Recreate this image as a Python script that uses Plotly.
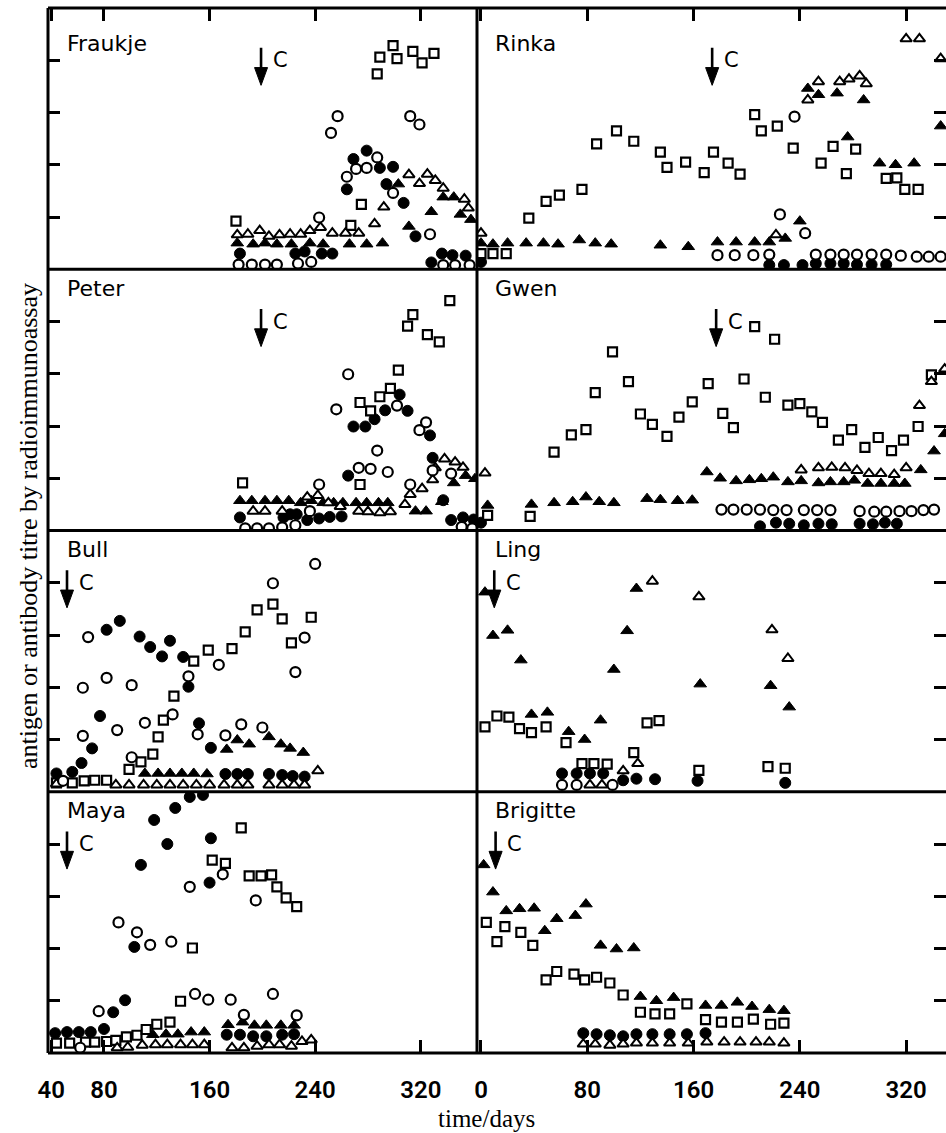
import plotly.graph_objects as go
from plotly.subplots import make_subplots

# ---------------- data (day, titre units) ----------------
panel_names = ["Fraukje", "Rinka", "Peter", "Gwen", "Bull", "Ling", "Maya", "Brigitte"]
arrow_days = [199, 174, 199, 177, 52, 10, 52, 11]
left_ticks = [40, 80, 160, 240, 320]
right_ticks = [0, 80, 160, 240, 320]
y_ticks = [1, 2, 3, 4]

# Fraukje
fraukje_sq_days = [180, 267, 275, 287, 289, 299, 302, 314, 321, 330]
fraukje_sq_titre = [0.92, 0.84, 1.24, 3.74, 4.06, 4.28, 4.03, 4.17, 3.95, 4.13]
fraukje_to_days = [181, 189, 198, 205, 213, 221, 229, 236, 244, 253, 263, 273, 285, 292, 311, 319, 325, 331, 337, 353, 356]
fraukje_to_titre = [0.66, 0.67, 0.74, 0.63, 0.66, 0.67, 0.67, 0.74, 0.80, 0.69, 0.69, 0.69, 0.87, 1.19, 1.81, 1.64, 1.82, 1.70, 1.55, 1.34, 1.17]
fraukje_tf_days = [181, 193, 202, 211, 222, 236, 246, 266, 279, 291, 303, 311, 328, 337, 345, 350, 358]
fraukje_tf_titre = [0.50, 0.48, 0.50, 0.48, 0.48, 0.50, 0.48, 0.48, 0.48, 0.50, 1.63, 0.82, 1.10, 1.38, 1.38, 1.05, 0.95]
fraukje_cf_days = [183, 225, 232, 245, 253, 264, 269, 279, 289, 294, 299, 307, 316, 328, 336, 344, 354]
fraukje_cf_titre = [0.30, 0.30, 0.34, 0.30, 0.30, 1.53, 2.11, 2.27, 1.94, 1.63, 1.96, 1.27, 0.63, 0.13, 0.30, 0.27, 0.26]
fraukje_co_days = [182, 192, 202, 211, 227, 237, 243, 252, 257, 264, 271, 279, 287, 299, 312, 319, 327, 337, 346, 357]
fraukje_co_titre = [0.09, 0.09, 0.09, 0.09, 0.11, 0.14, 0.99, 2.61, 2.93, 1.77, 1.92, 1.94, 2.14, 1.46, 2.93, 2.77, 0.67, 0.08, 0.08, 0.08]

# Rinka
rinka_sq_days = [0, 9, 19, 36, 49, 59, 76, 87, 102, 115, 135, 140, 154, 168, 175, 186, 195, 206, 211, 223, 235, 256, 265, 275, 282, 305, 313, 319, 329]
rinka_sq_titre = [0.30, 0.30, 0.30, 0.98, 1.30, 1.42, 1.53, 2.40, 2.65, 2.45, 2.24, 1.95, 2.05, 1.85, 2.24, 2.03, 1.82, 2.96, 2.65, 2.74, 2.32, 2.03, 2.35, 1.83, 2.30, 1.74, 1.75, 1.53, 1.53]
rinka_tf_days = [0, 9, 20, 34, 47, 58, 74, 86, 98, 135, 156, 178, 192, 206, 217, 229, 240, 246, 254, 268, 276, 288, 300, 312, 326, 346]
rinka_tf_titre = [0.50, 0.48, 0.50, 0.50, 0.50, 0.48, 0.56, 0.50, 0.48, 0.46, 0.43, 0.52, 0.52, 0.52, 0.52, 0.59, 0.92, 3.46, 3.34, 3.37, 2.53, 3.24, 2.03, 2.00, 2.03, 2.74]
rinka_to_days = [0, 222, 246, 254, 270, 277, 285, 290, 320, 330, 346]
rinka_to_titre = [0.69, 0.66, 3.24, 3.59, 3.59, 3.64, 3.70, 3.55, 4.41, 4.41, 4.03]
rinka_co_days = [178, 191, 205, 217, 225, 236, 244, 252, 263, 273, 283, 294, 305, 316, 328, 337, 346]
rinka_co_titre = [0.27, 0.27, 0.27, 0.28, 1.05, 2.92, 0.69, 0.28, 0.28, 0.28, 0.28, 0.28, 0.28, 0.26, 0.24, 0.24, 0.24]
rinka_cf_days = [0, 217, 228, 242, 252, 263, 273, 283, 294, 305]
rinka_cf_titre = [0.14, 0.08, 0.08, 0.08, 0.11, 0.11, 0.11, 0.09, 0.09, 0.09]

# Peter
peter_sq_days = [185, 274, 274, 282, 289, 297, 303, 310, 314, 325, 334, 342]
peter_sq_titre = [0.91, 0.88, 2.45, 2.29, 2.56, 2.72, 3.07, 3.91, 4.13, 3.75, 3.61, 4.40]
peter_tf_days = [183, 192, 202, 211, 220, 229, 237, 246, 254, 261, 271, 279, 288, 295, 316, 324, 336, 345, 354, 361]
peter_tf_titre = [0.57, 0.57, 0.57, 0.57, 0.57, 0.53, 0.57, 0.53, 0.53, 0.53, 0.53, 0.53, 0.53, 0.53, 0.37, 0.37, 0.55, 0.91, 1.05, 0.99]
peter_to_days = [193, 202, 215, 234, 242, 250, 259, 273, 280, 289, 297, 308, 312, 321, 329, 331, 338, 346, 352]
peter_to_titre = [0.37, 0.37, 0.37, 0.64, 0.67, 0.53, 0.46, 0.37, 0.36, 0.34, 0.36, 0.50, 0.69, 0.80, 0.97, 1.20, 1.37, 1.31, 1.21]
peter_cf_days = [183, 216, 221, 226, 234, 243, 251, 260, 265, 269, 278, 285, 293, 304, 310, 327, 329, 337, 343, 352, 360]
peter_cf_titre = [0.25, 0.25, 0.31, 0.31, 0.20, 0.23, 0.26, 0.27, 1.05, 1.99, 1.99, 2.13, 2.30, 2.60, 2.29, 1.82, 1.39, 0.58, 0.20, 0.25, 0.21]
peter_co_days = [187, 196, 205, 215, 225, 236, 243, 256, 265, 273, 282, 287, 295, 302, 312, 319, 324, 329, 343, 351, 359]
peter_co_titre = [0.04, 0.04, 0.04, 0.06, 0.10, 0.37, 0.88, 2.32, 2.99, 1.20, 1.18, 1.53, 1.12, 2.39, 0.88, 1.92, 2.07, 1.15, 1.09, 0.07, 0.04]

# Gwen
gwen_sq_days = [5, 37, 55, 68, 79, 86, 99, 111, 120, 129, 140, 149, 159, 171, 182, 190, 198, 206, 214, 221, 231, 240, 249, 257, 269, 279, 289, 299, 309, 318, 329, 339]
gwen_sq_titre = [0.29, 0.27, 1.50, 1.83, 1.93, 2.64, 3.42, 2.85, 2.23, 2.03, 1.80, 2.17, 2.46, 2.81, 2.24, 1.97, 2.90, 3.90, 2.55, 3.66, 2.40, 2.43, 2.27, 2.07, 1.73, 1.93, 1.59, 1.78, 1.53, 1.73, 1.99, 2.98]
gwen_tf_days = [5, 38, 55, 69, 79, 89, 100, 125, 135, 148, 159, 170, 180, 192, 202, 211, 220, 231, 241, 254, 263, 273, 281, 291, 301, 311, 319, 331, 341, 349]
gwen_tf_titre = [0.48, 0.50, 0.53, 0.55, 0.64, 0.55, 0.53, 0.61, 0.59, 0.57, 0.58, 1.12, 1.00, 0.95, 0.97, 0.99, 1.02, 0.93, 0.95, 0.91, 0.93, 0.93, 0.96, 0.90, 0.90, 0.90, 0.90, 1.16, 1.52, 1.85]
gwen_to_days = [3, 241, 254, 264, 274, 283, 292, 301, 311, 320, 330, 339, 349]
gwen_to_titre = [1.10, 1.16, 1.20, 1.21, 1.20, 1.15, 1.09, 1.09, 1.07, 1.20, 2.39, 2.85, 3.09]
gwen_co_days = [181, 190, 200, 210, 220, 230, 243, 253, 263, 285, 296, 305, 315, 324, 333, 341]
gwen_co_titre = [0.40, 0.40, 0.40, 0.40, 0.39, 0.39, 0.39, 0.39, 0.39, 0.37, 0.36, 0.36, 0.37, 0.37, 0.39, 0.40]
gwen_cf_days = [0, 210, 222, 232, 243, 254, 264, 285, 295, 304, 313]
gwen_cf_titre = [0.15, 0.08, 0.15, 0.13, 0.10, 0.13, 0.12, 0.13, 0.12, 0.15, 0.13]

# Bull
bull_sq_days = [44, 56, 65, 73, 82, 99, 108, 117, 121, 125, 133, 148, 159, 177, 187, 196, 208, 215, 222, 237]
bull_sq_titre = [0.17, 0.17, 0.21, 0.22, 0.22, 0.43, 0.57, 0.72, 1.05, 1.37, 1.83, 2.50, 2.71, 2.74, 3.06, 3.48, 3.59, 3.31, 2.85, 3.34]
bull_tf_days = [111, 121, 130, 139, 148, 158, 173, 181, 190, 205, 214, 221, 231]
bull_tf_titre = [0.35, 0.35, 0.35, 0.35, 0.35, 0.34, 0.81, 0.99, 0.91, 1.05, 0.91, 0.83, 0.75]
bull_to_days = [44, 89, 99, 110, 120, 130, 140, 150, 160, 171, 181, 189, 205, 215, 224, 232, 242]
bull_to_titre = [0.15, 0.13, 0.13, 0.13, 0.13, 0.13, 0.13, 0.13, 0.13, 0.13, 0.13, 0.13, 0.13, 0.13, 0.13, 0.13, 0.40]
bull_cf_days = [44, 56, 63, 71, 77, 82, 92, 107, 115, 124, 130, 140, 144, 152, 161, 172, 181, 189, 205, 215, 223, 232]
bull_cf_titre = [0.35, 0.38, 0.55, 0.83, 1.45, 3.10, 3.27, 2.97, 2.77, 2.59, 2.89, 2.58, 2.01, 1.31, 0.84, 0.34, 0.34, 0.34, 0.34, 0.32, 0.30, 0.29]
bull_co_days = [49, 64, 64, 68, 82, 90, 101, 101, 111, 132, 144, 151, 167, 172, 184, 200, 208, 225, 232, 240]
bull_co_titre = [0.21, 1.07, 1.99, 2.96, 2.18, 1.18, 2.04, 0.66, 1.32, 1.48, 2.21, 1.10, 2.43, 1.08, 1.29, 1.23, 3.99, 2.29, 2.95, 4.36]

# Ling
ling_sq_days = [3, 12, 21, 29, 38, 49, 64, 76, 85, 95, 115, 125, 134, 164, 216, 229]
ling_sq_titre = [1.24, 1.45, 1.43, 1.21, 1.13, 1.24, 0.94, 0.54, 0.54, 0.53, 0.75, 1.32, 1.36, 0.41, 0.48, 0.45]
ling_tf_days = [3, 9, 20, 30, 38, 50, 66, 78, 90, 100, 110, 117, 165, 218, 232]
ling_tf_titre = [3.82, 2.99, 3.09, 2.52, 1.48, 1.52, 1.15, 1.00, 1.37, 2.34, 3.08, 3.89, 2.06, 2.03, 1.62]
ling_to_days = [82, 91, 107, 118, 129, 164, 219, 231]
ling_to_titre = [0.13, 0.13, 0.40, 0.54, 4.03, 3.73, 3.10, 2.55]
ling_cf_days = [61, 72, 82, 92, 107, 117, 131, 163, 229]
ling_cf_titre = [0.35, 0.35, 0.35, 0.35, 0.22, 0.25, 0.24, 0.21, 0.17]
ling_co_days = [61, 72, 99]
ling_co_titre = [0.13, 0.13, 0.13]

# Maya
maya_sq_days = [44, 54, 66, 73, 82, 89, 97, 105, 112, 120, 130, 138, 147, 162, 172, 184, 190, 199, 207, 211, 218, 226]
maya_sq_titre = [0.19, 0.19, 0.21, 0.21, 0.22, 0.24, 0.31, 0.34, 0.45, 0.55, 0.59, 0.99, 2.01, 3.69, 3.63, 4.31, 3.39, 3.39, 3.41, 3.18, 2.97, 2.80]
maya_tf_days = [117, 127, 136, 146, 156, 174, 185, 194, 203, 214, 224]
maya_tf_titre = [0.35, 0.36, 0.36, 0.40, 0.40, 0.54, 0.59, 0.53, 0.53, 0.53, 0.53]
maya_to_days = [90, 98, 109, 119, 128, 138, 147, 156, 177, 186, 196, 205, 213, 222, 230, 237]
maya_to_titre = [0.10, 0.11, 0.15, 0.16, 0.16, 0.16, 0.16, 0.16, 0.10, 0.10, 0.13, 0.16, 0.16, 0.13, 0.22, 0.25]
maya_cf_days = [43, 52, 61, 70, 80, 87, 96, 103, 108, 118, 128, 134, 145, 155, 160, 161, 173, 183, 193, 203, 215, 224]
maya_cf_titre = [0.38, 0.40, 0.40, 0.40, 0.46, 0.78, 1.01, 2.03, 3.60, 4.46, 4.00, 4.69, 4.90, 4.94, 3.26, 4.11, 0.35, 0.35, 0.32, 0.32, 0.35, 0.36]
maya_co_days = [62, 76, 91, 105, 115, 131, 145, 149, 159, 170, 176, 186, 195, 208, 226]
maya_co_titre = [0.10, 0.80, 2.50, 2.31, 2.07, 2.13, 3.18, 1.13, 1.02, 3.42, 1.02, 0.73, 2.92, 1.13, 0.72]

# Brigitte
brigitte_sq_days = [4, 12, 18, 30, 39, 49, 57, 70, 78, 87, 97, 107, 120, 131, 142, 155, 169, 181, 193, 205, 218, 228]
brigitte_sq_titre = [2.50, 2.13, 2.42, 2.31, 2.06, 1.40, 1.56, 1.51, 1.40, 1.45, 1.34, 1.11, 0.78, 0.75, 0.75, 0.94, 0.64, 0.59, 0.59, 0.65, 0.55, 0.57]
brigitte_tf_days = [2, 9, 19, 29, 40, 48, 57, 71, 79, 90, 102, 115, 120, 132, 145, 169, 181, 193, 204, 217, 228]
brigitte_tf_titre = [3.60, 3.08, 2.72, 2.76, 2.77, 2.34, 2.57, 2.63, 2.85, 2.06, 1.99, 2.01, 1.08, 1.00, 1.06, 0.91, 0.91, 0.97, 0.89, 0.83, 0.81]
brigitte_to_days = [77, 86, 97, 107, 117, 129, 142, 156, 170, 183, 195, 207, 217, 228]
brigitte_to_titre = [0.17, 0.17, 0.15, 0.17, 0.19, 0.19, 0.19, 0.19, 0.21, 0.21, 0.21, 0.21, 0.21, 0.19]
brigitte_cf_days = [77, 87, 97, 107, 117, 129, 142, 155, 169]
brigitte_cf_titre = [0.38, 0.36, 0.34, 0.32, 0.36, 0.36, 0.36, 0.36, 0.38]
brigitte_co_days = []
brigitte_co_titre = []

# ---------------- assemble ----------------
series_by_panel = {
    "Fraukje": [(fraukje_cf_days, fraukje_cf_titre, "cf"), (fraukje_tf_days, fraukje_tf_titre, "tf"),
                (fraukje_sq_days, fraukje_sq_titre, "sq"), (fraukje_to_days, fraukje_to_titre, "to"),
                (fraukje_co_days, fraukje_co_titre, "co")],
    "Rinka": [(rinka_cf_days, rinka_cf_titre, "cf"), (rinka_tf_days, rinka_tf_titre, "tf"),
              (rinka_sq_days, rinka_sq_titre, "sq"), (rinka_to_days, rinka_to_titre, "to"),
              (rinka_co_days, rinka_co_titre, "co")],
    "Peter": [(peter_cf_days, peter_cf_titre, "cf"), (peter_tf_days, peter_tf_titre, "tf"),
              (peter_sq_days, peter_sq_titre, "sq"), (peter_to_days, peter_to_titre, "to"),
              (peter_co_days, peter_co_titre, "co")],
    "Gwen": [(gwen_cf_days, gwen_cf_titre, "cf"), (gwen_tf_days, gwen_tf_titre, "tf"),
             (gwen_sq_days, gwen_sq_titre, "sq"), (gwen_to_days, gwen_to_titre, "to"),
             (gwen_co_days, gwen_co_titre, "co")],
    "Bull": [(bull_cf_days, bull_cf_titre, "cf"), (bull_tf_days, bull_tf_titre, "tf"),
             (bull_sq_days, bull_sq_titre, "sq"), (bull_to_days, bull_to_titre, "to"),
             (bull_co_days, bull_co_titre, "co")],
    "Ling": [(ling_cf_days, ling_cf_titre, "cf"), (ling_tf_days, ling_tf_titre, "tf"),
             (ling_sq_days, ling_sq_titre, "sq"), (ling_to_days, ling_to_titre, "to"),
             (ling_co_days, ling_co_titre, "co")],
    "Maya": [(maya_cf_days, maya_cf_titre, "cf"), (maya_tf_days, maya_tf_titre, "tf"),
             (maya_sq_days, maya_sq_titre, "sq"), (maya_to_days, maya_to_titre, "to"),
             (maya_co_days, maya_co_titre, "co")],
    "Brigitte": [(brigitte_cf_days, brigitte_cf_titre, "cf"), (brigitte_tf_days, brigitte_tf_titre, "tf"),
                 (brigitte_sq_days, brigitte_sq_titre, "sq"), (brigitte_to_days, brigitte_to_titre, "to"),
                 (brigitte_co_days, brigitte_co_titre, "co")],
}

marker_styles = {
    "sq": dict(symbol="square", size=9, color="white", line=dict(color="black", width=2.2)),
    "to": dict(symbol="triangle-up", size=10, color="white", line=dict(color="black", width=2)),
    "co": dict(symbol="circle", size=10, color="white", line=dict(color="black", width=2.2)),
    "tf": dict(symbol="triangle-up", size=11, color="black", line=dict(color="black", width=1)),
    "cf": dict(symbol="circle", size=11, color="black", line=dict(color="black", width=1)),
}
series_names = {"sq": "open squares", "to": "open triangles", "co": "open circles",
                "tf": "filled triangles", "cf": "filled circles"}

W, H = 946, 1133
ML, MR, MT, MB = 48, 0, 8, 80
PW = W - ML - MR
PH = H - MT - MB
left_w, right_w = 429, 469

fig = make_subplots(rows=4, cols=2, horizontal_spacing=0, vertical_spacing=0,
                    column_widths=[left_w, right_w])

LABEL_FONT = "Liberation Sans Narrow, Roboto, DejaVu Sans Condensed, sans-serif"
NAME_FONT = "DejaVu Sans, Verdana, sans-serif"
SERIF = "Liberation Serif, Times New Roman, serif"

for i, name in enumerate(panel_names):
    row, col = i // 2 + 1, i % 2 + 1
    for days, titre, key in series_by_panel[name]:
        if not days:
            continue
        fig.add_trace(go.Scatter(x=days, y=titre, mode="markers", name=series_names[key],
                                 marker=marker_styles[key], showlegend=False),
                      row=row, col=col)

# axes
for i, name in enumerate(panel_names):
    row, col = i // 2 + 1, i % 2 + 1
    xr = [37.6, 362.6] if col == 1 else [-3, 350]
    tv = left_ticks if col == 1 else right_ticks
    xa = dict(range=xr, tickvals=tv, ticktext=[str(t) for t in tv], showgrid=False,
              zeroline=False, showline=False, ticklen=13, tickwidth=2.5, tickcolor="black")
    if row == 1:
        xa.update(side="top", ticks="inside", showticklabels=False)
    elif row == 4:
        xa.update(side="bottom", ticks="inside", showticklabels=True, ticklabelstandoff=20,
                  tickfont=dict(family=LABEL_FONT, size=24, color="black", weight=600))
    else:
        xa.update(ticks="", showticklabels=False)
    fig.update_xaxes(row=row, col=col, **xa)
    ya = dict(range=[0, 5], tickvals=y_ticks, showgrid=False, zeroline=False, showline=False,
              ticks="inside", ticklen=12, tickwidth=2.5, tickcolor="black", showticklabels=False,
              side="left" if col == 1 else "right")
    fig.update_yaxes(row=row, col=col, **ya)

shapes = []
split_x = left_w / PW
bw = 3
for yy in [0, 0.25, 0.5, 0.75, 1]:
    shapes.append(dict(type="line", xref="paper", yref="paper", x0=0, x1=1, y0=yy, y1=yy,
                       line=dict(color="black", width=bw)))
for xx in [0, split_x]:
    shapes.append(dict(type="line", xref="paper", yref="paper", x0=xx, x1=xx, y0=0, y1=1,
                       line=dict(color="black", width=bw)))

annotations = []
px_per_day = left_w / (362.6 - 37.6)
head_half = 6.5 / px_per_day
for i, name in enumerate(panel_names):
    row, col = i // 2 + 1, i % 2 + 1
    k = i + 1
    xref = "x" if k == 1 else f"x{k}"
    yref = "y" if k == 1 else f"y{k}"
    d = arrow_days[i]
    shapes.append(dict(type="line", xref=xref, yref=yref, x0=d, x1=d, y0=4.24, y1=3.8,
                       line=dict(color="black", width=2.6)))
    shapes.append(dict(type="path", xref=xref, yref=yref,
                       path=f"M {d - head_half} 3.86 L {d + head_half} 3.86 L {d} 3.52 Z",
                       fillcolor="black", line=dict(color="black", width=1)))
    annotations.append(dict(x=d, y=4.0, xref=xref, yref=yref, text="C", showarrow=False,
                            xshift=19, font=dict(family=NAME_FONT, size=21, color="black")))
    top_off = 35 if row == 1 else 19
    annotations.append(dict(x=0.04 if col == 1 else 0.035, y=1 - top_off / (PH / 4),
                            xref=f"{xref} domain", yref=f"{yref} domain", text=name,
                            showarrow=False, xanchor="left", yanchor="middle",
                            font=dict(family=NAME_FONT, size=22, color="black")))

annotations.append(dict(x=(28 - ML) / PW, y=(H - MB - 526) / PH,
                        xref="paper", yref="paper", text="antigen or antibody titre by radioimmunoassay",
                        textangle=-90, showarrow=False, xanchor="center", yanchor="middle",
                        font=dict(family=SERIF, size=26, color="black")))
annotations.append(dict(x=(486 - ML) / PW, y=(H - MB - 1118) / PH, xref="paper", yref="paper",
                        text="time/days", showarrow=False, xanchor="center", yanchor="middle",
                        font=dict(family=SERIF, size=25, color="black")))

fig.update_layout(width=W, height=H, margin=dict(l=ML, r=MR, t=MT, b=MB, autoexpand=False),
                  plot_bgcolor="white", paper_bgcolor="white", shapes=shapes,
                  annotations=annotations, showlegend=False)

fig.write_html("out.html", config={"displayModeBar": False},
               post_script="document.body.style.margin='0';document.body.style.padding='0';"
                           "document.body.style.overflow='hidden';")
